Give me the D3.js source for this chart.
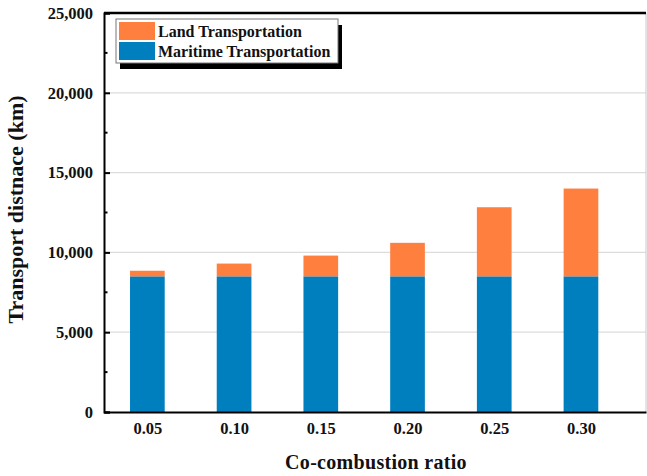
<!DOCTYPE html>
<html>
<head>
<meta charset="utf-8">
<script src="https://cdn.jsdelivr.net/npm/d3@7"></script>
<style>
  body { margin: 0; background: #fff; }
  svg text { font-family: "Liberation Serif", "Times New Roman", serif; font-weight: bold; fill: #111; }
</style>
</head>
<body>
<div id="chart"></div>
<script>
// co-combustion ratios and distances (km)
const ratios = [0.05, 0.10, 0.15, 0.20, 0.25, 0.30];
const maritime = [8500, 8500, 8500, 8500, 8500, 8500];
const land = [350, 800, 1300, 2100, 4330, 5500];
const yTicks = [0, 5000, 10000, 15000, 20000, 25000];
const seriesNames = ["Land Transportation", "Maritime Transportation"];
const colors = { land: "#FF7F3F", maritime: "#007FBF" };

(function () {
  const W = 647, H = 476;
  const margin = { top: 13, right: 1, bottom: 64, left: 104 };
  const width = W - margin.left - margin.right;
  const height = H - margin.top - margin.bottom;

  const svg = d3.select("#chart").append("svg")
    .attr("width", W).attr("height", H);
  const g = svg.append("g")
    .attr("transform", `translate(${margin.left},${margin.top})`);

  const x = d3.scaleLinear().domain([0.025, 0.3375]).range([0, width]);
  const y = d3.scaleLinear().domain([0, 25000]).range([height, 0]);
  const barW = x(0.045) - x(0.025);

  // grid lines
  g.selectAll(".grid").data(yTicks.slice(1, -1)).join("line")
    .attr("x1", 0).attr("x2", width)
    .attr("y1", d => y(d)).attr("y2", d => y(d))
    .attr("stroke", "#dcdcdc").attr("stroke-width", 1.2);

  const data = ratios.map((r, i) => ({ r, m: maritime[i], l: land[i] }));

  g.selectAll(".bar-m").data(data).join("rect")
    .attr("x", d => x(d.r) - barW / 2)
    .attr("y", d => y(d.m))
    .attr("width", barW)
    .attr("height", d => height - y(d.m))
    .attr("fill", colors.maritime);

  g.selectAll(".bar-l").data(data).join("rect")
    .attr("x", d => x(d.r) - barW / 2)
    .attr("y", d => y(d.m + d.l))
    .attr("width", barW)
    .attr("height", d => y(d.m) - y(d.m + d.l))
    .attr("fill", colors.land);

  // frame: right gray, top thick black
  g.append("line").attr("x1", width).attr("x2", width)
    .attr("y1", 0).attr("y2", height)
    .attr("stroke", "#c8c8c8").attr("stroke-width", 1);
  g.append("line").attr("x1", 0).attr("x2", width)
    .attr("y1", 0).attr("y2", 0)
    .attr("stroke", "#000").attr("stroke-width", 2.5);

  // y axis with inward ticks
  const yAxis = g.append("g").call(
    d3.axisLeft(y).tickValues(yTicks).tickSize(-6).tickPadding(11)
      .tickFormat(d3.format(",")));
  yAxis.select(".domain").attr("stroke-width", 2);
  yAxis.selectAll(".tick line").attr("stroke-width", 2);
  yAxis.selectAll("text").attr("font-size", "16.5px").attr("fill", "#111");

  // minor ticks
  g.selectAll(".minor").data(d3.range(2500, 25000, 5000)).join("line")
    .attr("x1", 0).attr("x2", 3.5)
    .attr("y1", d => y(d)).attr("y2", d => y(d))
    .attr("stroke", "#000").attr("stroke-width", 2);

  // x axis
  const xAxis = g.append("g").attr("transform", `translate(0,${height})`)
    .call(d3.axisBottom(x).tickValues(ratios).tickSize(0).tickPadding(10)
      .tickFormat(d3.format(".2f")));
  xAxis.select(".domain").attr("stroke-width", 2);
  xAxis.selectAll("text").attr("font-size", "16.5px").attr("fill", "#111");

  // axis titles
  svg.append("text")
    .attr("x", margin.left + width / 2 + 1)
    .attr("y", 469)
    .attr("text-anchor", "middle")
    .attr("font-size", "20px")
    .attr("letter-spacing", "0.3px")
    .text("Co-combustion ratio");

  svg.append("text")
    .attr("transform", `translate(23,${margin.top + height / 2 - 3}) rotate(-90)`)
    .attr("text-anchor", "middle")
    .attr("font-size", "22px")
    .text("Transport distnace (km)");

  // legend
  const lg = svg.append("g").attr("transform", "translate(116,19)");
  lg.append("rect").attr("x", 4).attr("y", 6).attr("width", 222).attr("height", 44)
    .attr("fill", "#000");
  lg.append("rect").attr("x", 0).attr("y", 0).attr("width", 222).attr("height", 44)
    .attr("fill", "#fff").attr("stroke", "#777").attr("stroke-width", 1);
  const items = [
    { name: seriesNames[0], color: colors.land },
    { name: seriesNames[1], color: colors.maritime }
  ];
  const li = lg.selectAll(".li").data(items).join("g")
    .attr("transform", (d, i) => `translate(3,${3 + i * 20})`);
  li.append("rect").attr("width", 36).attr("height", 18).attr("fill", d => d.color);
  li.append("text").attr("x", 39).attr("y", 9).attr("dy", "0.36em")
    .attr("font-size", "16px").text(d => d.name);
})();
</script>
</body>
</html>
